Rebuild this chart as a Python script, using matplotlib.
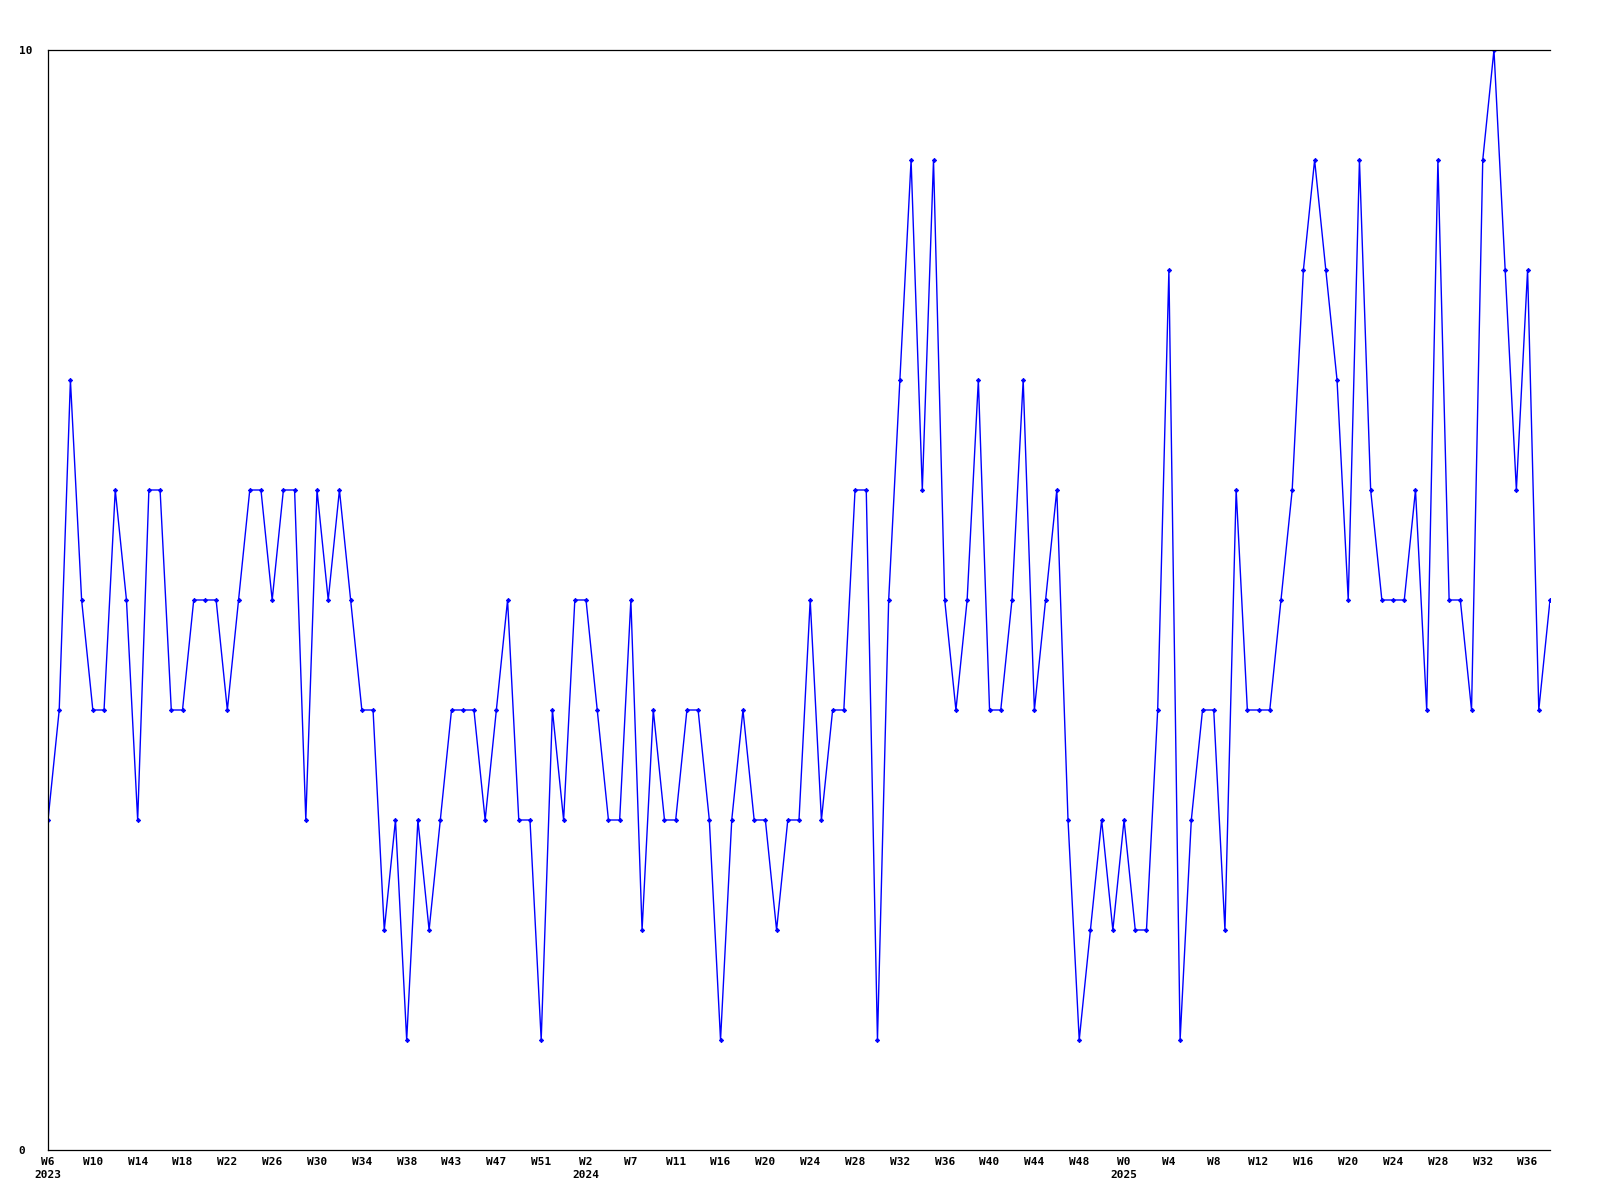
import matplotlib
matplotlib.use("Agg")
import matplotlib.pyplot as plt

# weekly values, W6 2023 .. W38 2025
values = [3, 4, 7, 5, 4, 4, 6, 5, 3, 6,
          6, 4, 4, 5, 5, 5, 4, 5, 6, 6,
          5, 6, 6, 3, 6, 5, 6, 5, 4, 4,
          2, 3, 1, 3, 2, 3, 4, 4, 4, 3,
          4, 5, 3, 3, 1, 4, 3, 5, 5, 4,
          3, 3, 5, 2, 4, 3, 3, 4, 4, 3,
          1, 3, 4, 3, 3, 2, 3, 3, 5, 3,
          4, 4, 6, 6, 1, 5, 7, 9, 6, 9,
          5, 4, 5, 7, 4, 4, 5, 7, 4, 5,
          6, 3, 1, 2, 3, 2, 3, 2, 2, 4,
          8, 1, 3, 4, 4, 2, 6, 4, 4, 4,
          5, 6, 8, 9, 8, 7, 5, 9, 6, 5,
          5, 5, 6, 4, 9, 5, 5, 4, 9, 10,
          8, 6, 8, 4, 5]

week_labels = ["W6", "W10", "W14", "W18", "W22", "W26", "W30", "W34", "W38",
               "W43", "W47", "W51", "W2", "W7", "W11", "W16", "W20", "W24",
               "W28", "W32", "W36", "W40", "W44", "W48", "W0", "W4", "W8",
               "W12", "W16", "W20", "W24", "W28", "W32", "W36"]
year_labels = {"W6": "2023", "W2": "2024", "W0": "2025"}
tick_step = 4

y_ticks = [0, 10]

fig = plt.figure(figsize=(16, 12), dpi=100)
ax = fig.add_axes([48 / 1600, 50 / 1200, 1502 / 1600, 1100 / 1200])

x = list(range(len(values)))
ax.plot(x, values, color="#0000ff", linewidth=1.0,
        marker="D", markersize=2.2, markeredgewidth=0.6)

ax.set_xlim(0, len(values) - 1)
ax.set_ylim(0, 10)

tick_pos = [i * tick_step for i in range(len(week_labels))]
labels = []
seen_first = False
for i, lab in enumerate(week_labels):
    if lab in year_labels and (lab != "W6" or not seen_first):
        labels.append(lab + "\n" + year_labels[lab])
        if lab == "W6":
            seen_first = True
    else:
        labels.append(lab)
ax.set_xticks(tick_pos)
ax.set_xticklabels(labels, fontfamily="DejaVu Sans Mono", fontweight="bold",
                   fontsize=8, linespacing=1.4)
for t in ax.get_xticklabels():
    t.set_verticalalignment("top")

ax.set_yticks(y_ticks)
ax.set_yticklabels([str(v) for v in y_ticks], fontfamily="DejaVu Sans Mono",
                   fontweight="bold", fontsize=8)
for t in ax.get_yticklabels():
    t.set_horizontalalignment("left")

ax.tick_params(axis="x", length=0, pad=5)
ax.tick_params(axis="y", length=0, pad=21)

for side in ("left", "top", "bottom"):
    ax.spines[side].set_linewidth(0.9)
    ax.spines[side].set_color("black")
ax.spines["right"].set_visible(False)

fig.savefig("out.png", dpi=100)
